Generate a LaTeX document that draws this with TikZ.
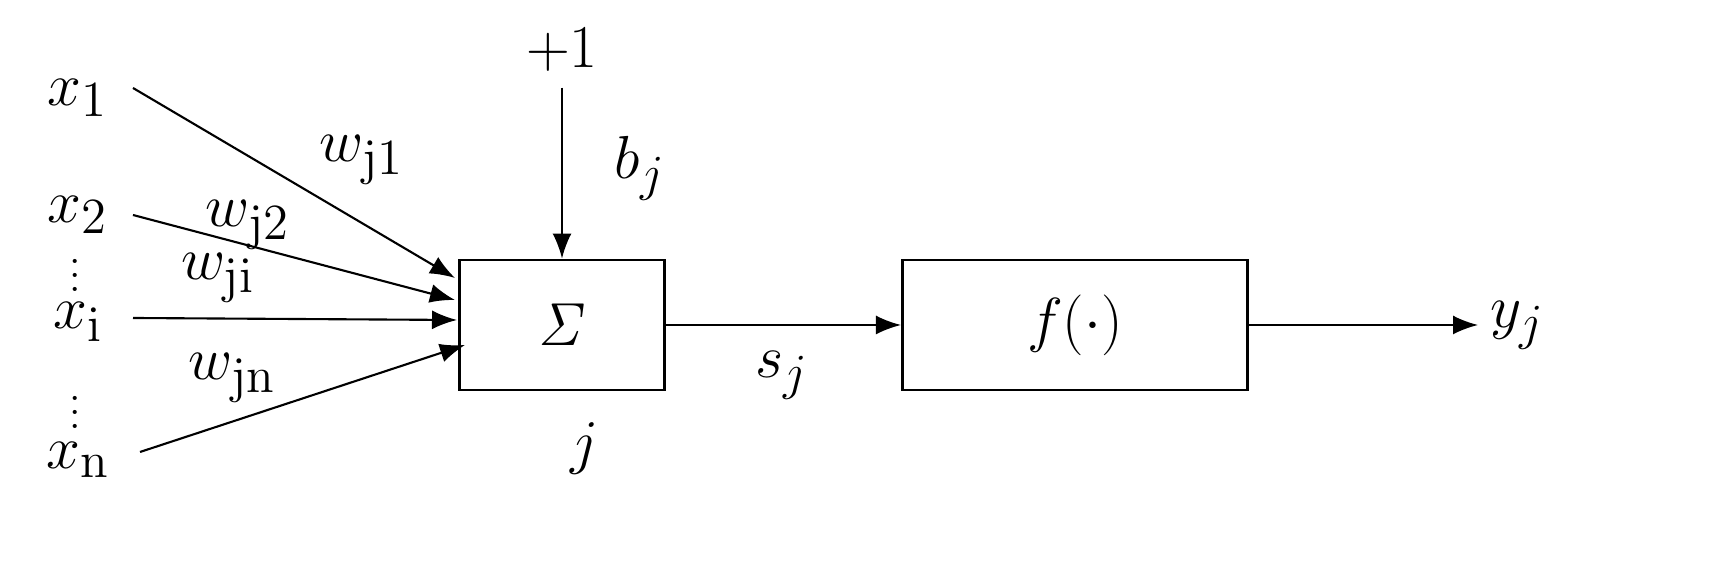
\documentclass[tikz,border=0pt]{standalone}
\usetikzlibrary{arrows.meta,positioning}
\tikzset{
  box/.style={draw, thick, minimum width=2.05cm, minimum height=1.3cm},
  lbl/.style={inner sep=1pt, font=\fontsize{19}{22}\selectfont},
  dots/.style={inner sep=0pt, font=\fontsize{12}{14}\selectfont},
  link/.style={-{Latex[length=2.5mm,width=1.9mm]}, line width=0.6pt}
}
\begin{document}
\begin{tikzpicture}[x=0.01cm, y=-0.01cm]
  \useasboundingbox (0,0) rectangle (1731,568);

  % Boxes
  \node[box] (sum) at (562,325) {\fontsize{19}{22}\selectfont$\mathit{\Sigma}$};
  \node[box, minimum width=3.45cm] (act) at (1075,325) {\fontsize{19}{22}\selectfont$f(\cdot)$};

  % Inputs
  \node[lbl] (x1) at (78,98) {$x_1$};
  \node[lbl] (x2) at (78,215) {$x_2$};
  \node[lbl] (xi) at (78,322) {$x_{\mathrm{i}}$};
  \node[lbl] (xn) at (78,460) {$x_{\mathrm{n}}$};
  \node[dots] at (75,265) {$\vdots$};
  \node[dots] at (75,402) {$\vdots$};

  % Bias and output
  \node[lbl] (one) at (562,50) {$+1$};
  \node[lbl] (yj) at (1518,325) {$y_j$};
  \coordinate (tin1) at (455,278);
  \coordinate (tin2) at (455,300);
  \coordinate (tini) at (457,320);
  \coordinate (tinn) at (465,345);
  \coordinate (tout) at (1478,325);

  % Connectors
  \draw[link] (133,88) -- (tin1);
  \draw[link] (133,215) -- (tin2);
  \draw[link] (133,318) -- (tini);
  \draw[link] (140,452) -- (tinn);
  \draw[link] (one.south) ++(0,12) -- (sum.north);
  \draw[link] (sum.east) -- (act.west);
  \draw[link] (act.east) -- (tout);

  % Labels
  \node[lbl] at (362,160) {$w_{\mathrm{j1}}$};
  \node[lbl] at (248,225) {$w_{\mathrm{j2}}$};
  \node[lbl] at (218,278) {$w_{\mathrm{ji}}$};
  \node[lbl] at (232,378) {$w_{\mathrm{jn}}$};
  \node[lbl] at (640,168) {$b_j$};
  \node[lbl] at (585,448) {$j$};
  \node[lbl] at (782,375) {$s_j$};
\end{tikzpicture}
\end{document}
